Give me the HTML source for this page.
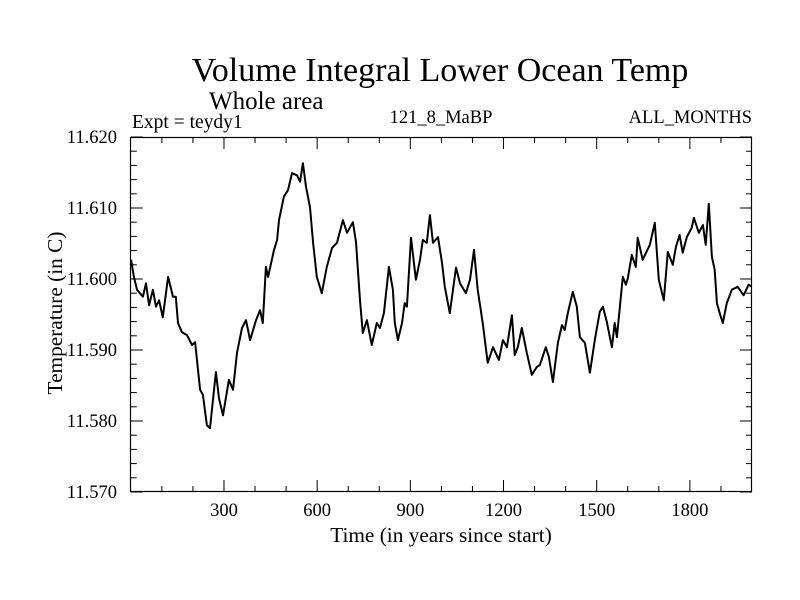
<!DOCTYPE html>
<html><head><meta charset="utf-8"><style>
body{margin:0;background:#fff}
svg{display:block;font-family:"Liberation Serif",serif}
</style></head><body>
<svg id="chart" width="800" height="600">
<text x="440" y="81" font-size="34" text-anchor="middle">Volume Integral Lower Ocean Temp</text>
<text x="209" y="109" font-size="25">Whole area</text>
<text x="132" y="128" font-size="19.5">Expt = teydy1</text>
<text x="441" y="123" font-size="18.5" text-anchor="middle">121_8_MaBP</text>
<text x="752" y="123" font-size="18.5" text-anchor="end">ALL_MONTHS</text>
<text x="441" y="542" font-size="21.3" text-anchor="middle">Time (in years since start)</text>
<text transform="translate(62,313) rotate(-90)" font-size="21.3" text-anchor="middle">Temperature (in C)</text>
<g id="axes"></g>
<path id="line" fill="none" stroke="#000" stroke-width="2" stroke-linejoin="round"></path>
<rect x="130.5" y="137.5" width="621" height="354" fill="none" stroke="#000" stroke-width="1.2"></rect>
</svg>
<script>
const years=[1,10,20,39,49,59,71,81,91,103,120,136,145,152,165,181,197,207,223,232,245,255,274,284,297,316,329,342,358,371,384,403,416,425,435,442,461,471,477,493,506,519,535,545,554,564,577,587,599,615,631,648,664,683,696,715,725,738,747,760,776,792,802,815,831,844,850,860,873,882,889,902,918,931,940,953,963,973,989,1002,1011,1027,1047,1060,1079,1092,1105,1117,1133,1149,1166,1185,1198,1211,1227,1236,1246,1259,1275,1291,1307,1317,1336,1346,1359,1375,1388,1397,1407,1423,1436,1446,1462,1478,1494,1510,1520,1533,1549,1558,1565,1584,1594,1600,1613,1626,1632,1648,1671,1687,1700,1716,1729,1745,1755,1767,1777,1790,1806,1813,1829,1842,1851,1861,1871,1880,1887,1896,1906,1919,1935,1954,1973,1989,1999];
const temps=[11.6027,11.6003,11.5985,11.5975,11.5994,11.5963,11.5985,11.5961,11.5970,11.5946,11.6003,11.5975,11.5975,11.5938,11.5925,11.5921,11.5907,11.5911,11.5844,11.5837,11.5794,11.5790,11.5869,11.5832,11.5808,11.5858,11.5844,11.5896,11.5931,11.5942,11.5914,11.5942,11.5956,11.5938,11.6017,11.6003,11.6041,11.6055,11.6083,11.6116,11.6125,11.6149,11.6146,11.6137,11.6163,11.6130,11.6101,11.6051,11.6003,11.5980,11.6017,11.6044,11.6051,11.6083,11.6065,11.6080,11.6052,11.5970,11.5924,11.5942,11.5907,11.5938,11.5931,11.5952,11.6017,11.5985,11.5938,11.5914,11.5938,11.5966,11.5961,11.6058,11.5999,11.6027,11.6055,11.6051,11.6090,11.6051,11.6059,11.6023,11.5989,11.5952,11.6016,11.5994,11.5980,11.5999,11.6041,11.5985,11.5938,11.5882,11.5904,11.5886,11.5914,11.5904,11.5949,11.5893,11.5904,11.5931,11.5896,11.5865,11.5876,11.5879,11.5904,11.5890,11.5855,11.5910,11.5935,11.5928,11.5952,11.5982,11.5961,11.5918,11.5910,11.5868,11.5914,11.5954,11.5961,11.5939,11.5904,11.5938,11.5918,11.6003,11.5992,11.6001,11.6034,11.6017,11.6058,11.6027,11.6048,11.6079,11.5999,11.5970,11.6038,11.6020,11.6045,11.6062,11.6037,11.6059,11.6072,11.6086,11.6065,11.6076,11.6048,11.6106,11.6031,11.6013,11.5966,11.5952,11.5938,11.5966,11.5985,11.5989,11.5977,11.5992,11.5989];
const xTicks=[300,600,900,1200,1500,1800];
const yTicks=["11.570","11.580","11.590","11.600","11.610","11.620"];

const X0=130.8,X1=752,Y0=492,Y1=137;
const xs=v=>X0+(v-0)/(2000-0)*(X1-X0);
const ys=v=>Y0-(v-11.570)/(11.620-11.570)*(Y0-Y1);
const NS="http://www.w3.org/2000/svg";
const g=document.getElementById('axes');
function ln(x1,y1,x2,y2,name){const l=document.createElementNS(NS,'line');l.setAttribute('x1',x1);l.setAttribute('y1',y1);l.setAttribute('x2',x2);l.setAttribute('y2',y2);l.setAttribute('stroke','#000');l.setAttribute('stroke-width','1');


g.appendChild(l);}
function tx(x,y,s,anchor,name){const t=document.createElementNS(NS,'text');t.setAttribute('x',x);t.setAttribute('y',y);t.setAttribute('font-size','18.5');t.setAttribute('text-anchor',anchor);t.textContent=s;


g.appendChild(t);}
for(let yr=100;yr<2000;yr+=100){const x=xs(yr);const L=yr%300===0?12:6;ln(x,Y0,x,Y0-L,'x-tick');ln(x,Y1,x,Y1+L,'x-tick-top');}
xTicks.forEach(v=>tx(xs(v),516,String(v),'middle','x-tick-label'));
for(let k=0;k<=25;k++){const v=11.570+k*0.002;const y=ys(v);const L=k%5===0?12:6;ln(X0,y,X0+L,y,'y-tick');ln(X1,y,X1-L,y,'y-tick-right');}
yTicks.forEach(s=>tx(117,ys(parseFloat(s))+6,s,'end','y-tick-label'));
let d='';years.forEach((yr,i)=>{d+=(i?'L':'M')+xs(yr).toFixed(1)+','+ys(temps[i]).toFixed(1);});
document.getElementById('line').setAttribute('d',d);
</script>
</body></html>
